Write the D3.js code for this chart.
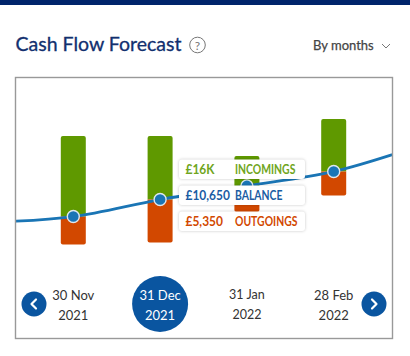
<!DOCTYPE html>
<html>
<head>
<meta charset="utf-8">
<script src="https://cdn.jsdelivr.net/npm/d3@7"></script>
<style>
  body { margin: 0; background: #fff; }
  svg { display: block; font-family: Lato, "Open Sans", sans-serif; }
</style>
</head>
<body>
<svg id="chart" width="410" height="356"></svg>
<script>
// months on the x axis, first and last only carry the balance line off the edges
const lineMonths = ['Oct', 'Nov', 'Dec', 'Jan', 'Feb', 'Mar'];
const balance = [9040, 9460, 10650, 11600, 12610, 14440];

const barMonths = ['Nov', 'Dec', 'Jan', 'Feb'];
const barBalance = [9460, 10650, 11600, 12610];
const incomings = [20300, 16000, 7560, 13200];
const outgoings = [3480, 5350, 3230, 2980];

const dateDays = ['30 Nov', '31 Dec', '31 Jan', '28 Feb'];
const dateYears = ['2021', '2021', '2022', '2022'];
const selectedIndex = 1;

const tooltipValues = ['£16K', '£10,650', '£5,350'];
const tooltipLabels = ['INCOMINGS', 'BALANCE', 'OUTGOINGS'];

const navy = '#00246b';
const blue = '#0a55a0';
const lineBlue = '#1a75b5';
const green = '#5f9900';
const red = '#d24800';
const tooltipColors = ['#6fa51c', '#1a5ca3', '#d24800'];

const svg = d3.select('#chart');

// top strip
svg.append('rect').attr('width', 410).attr('height', 5).attr('fill', navy);

// header
svg.append('text')
    .attr('x', 15.5).attr('y', 51)
    .attr('fill', '#12306f')
    .attr('stroke', '#12306f')
    .attr('stroke-width', 0.3)
    .style('font-size', '19.5px')
    .text('Cash Flow Forecast');
svg.append('circle')
    .attr('cx', 197.5).attr('cy', 45).attr('r', 7.8)
    .attr('fill', 'none').attr('stroke', '#777').attr('stroke-width', 1);
svg.append('text')
    .attr('x', 197.5).attr('y', 49.5)
    .attr('text-anchor', 'middle')
    .attr('fill', '#777')
    .style('font-size', '12px')
    .text('?');
svg.append('text')
    .attr('x', 313).attr('y', 50)
    .attr('fill', '#444')
    .attr('stroke', '#444')
    .attr('stroke-width', 0.25)
    .style('font-size', '13px')
    .text('By months');
svg.append('path')
    .attr('d', 'M382,44 L386,48 L390,44')
    .attr('fill', 'none').attr('stroke', '#777').attr('stroke-width', 1);

// scales
const xscale = d3.scalePoint().domain(lineMonths).range([-13.5, 420.5]);
const yscale = d3.scaleLinear().domain([8000, 14000]).range([237.4, 151.6]);
const inscale = d3.scaleLinear().domain([0, 16000]).range([0, 63.5]);
const outscale = d3.scaleLinear().domain([0, 5350]).range([0, 43]);

// plot frame
svg.append('clipPath').attr('id', 'frame')
    .append('rect').attr('x', 16).attr('y', 78).attr('width', 376).attr('height', 261);

// bars are rounded on the outer end only
const barWidth = 25;
function barPath(cx, from, to, r) {
    const dir = to < from ? -1 : 1;
    const p = d3.path();
    p.moveTo(cx - barWidth / 2, from);
    p.lineTo(cx - barWidth / 2, to - dir * r);
    p.quadraticCurveTo(cx - barWidth / 2, to, cx - barWidth / 2 + r, to);
    p.lineTo(cx + barWidth / 2 - r, to);
    p.quadraticCurveTo(cx + barWidth / 2, to, cx + barWidth / 2, to - dir * r);
    p.lineTo(cx + barWidth / 2, from);
    p.closePath();
    return p.toString();
}

const plot = svg.append('g').attr('clip-path', 'url(#frame)');

plot.selectAll('.in').data(barMonths).join('path')
    .attr('class', 'in')
    .attr('fill', green)
    .attr('d', (d, i) => barPath(xscale(d), yscale(barBalance[i]), yscale(barBalance[i]) - inscale(incomings[i]), 2));
plot.selectAll('.out').data(barMonths).join('path')
    .attr('class', 'out')
    .attr('fill', red)
    .attr('d', (d, i) => barPath(xscale(d), yscale(barBalance[i]), yscale(barBalance[i]) + outscale(outgoings[i]), 2));

const line = d3.line()
    .x((d, i) => xscale(lineMonths[i]))
    .y(d => yscale(d))
    .curve(d3.curveMonotoneX);

plot.append('path')
    .datum(balance)
    .attr('d', line)
    .attr('fill', 'none')
    .attr('stroke', lineBlue)
    .attr('stroke-width', 2.8);

plot.selectAll('.dot').data(barMonths).join('circle')
    .attr('class', 'dot')
    .attr('cx', d => xscale(d))
    .attr('cy', (d, i) => yscale(barBalance[i]))
    .attr('r', 6)
    .attr('fill', lineBlue)
    .attr('stroke', '#dfe8ef')
    .attr('stroke-width', 1.4);

svg.append('rect')
    .attr('x', 15.5).attr('y', 77.5).attr('width', 377).attr('height', 261)
    .attr('fill', 'none').attr('stroke', '#999').attr('stroke-width', 1.4);

// tooltip of the selected month, text squeezed a bit since the real font is narrower
const rowY = d3.scalePoint().domain(tooltipLabels).range([159.5, 211.5]);
const rows = svg.selectAll('.row').data(tooltipLabels).join('g')
    .attr('class', 'row')
    .attr('transform', d => `translate(179, ${rowY(d)})`);
rows.append('rect')
    .attr('width', 126).attr('height', 19.5).attr('rx', 3)
    .attr('fill', '#fff')
    .style('filter', 'drop-shadow(0 0 1.5px rgba(0,0,0,0.22))');
rows.append('text')
    .attr('transform', 'translate(6.5, 14.5) scale(0.92, 1)')
    .attr('fill', (d, i) => tooltipColors[i])
    .style('font-size', '13px')
    .style('font-weight', 700)
    .text((d, i) => tooltipValues[i]);
rows.append('text')
    .attr('transform', 'translate(56, 14.5) scale(0.8, 1)')
    .attr('fill', (d, i) => tooltipColors[i])
    .style('font-size', '13px')
    .style('font-weight', 700)
    .text(d => d);

// date selector
svg.append('circle')
    .attr('cx', xscale(barMonths[selectedIndex])).attr('cy', 304).attr('r', 28)
    .attr('fill', blue);

const dates = svg.selectAll('.date').data(barMonths).join('g')
    .attr('class', 'date')
    .attr('text-anchor', 'middle')
    .attr('fill', (d, i) => i === selectedIndex ? '#fff' : '#333')
    .style('font-size', (d, i) => i === 2 ? '12.5px' : '13px');
dates.append('text')
    .attr('x', d => xscale(d)).attr('y', (d, i) => i === 2 ? 299 : 300)
    .text((d, i) => dateDays[i]);
dates.append('text')
    .attr('x', d => xscale(d)).attr('y', (d, i) => i === 2 ? 319 : 320)
    .text((d, i) => dateYears[i]);

// arrows
const arrows = [[34, -1], [374, 1]];
svg.selectAll('.nav').data(arrows).join('g')
    .attr('class', 'nav')
    .attr('transform', d => `translate(${d[0]}, 304)`)
    .call(g => g.append('circle').attr('r', 12.5).attr('fill', blue))
    .call(g => g.append('path')
        .attr('d', d => `M${-d[1] * 2},-4.5 L${d[1] * 2.5},0 L${-d[1] * 2},4.5`)
        .attr('fill', 'none')
        .attr('stroke', '#fff')
        .attr('stroke-width', 2.2)
        .attr('stroke-linecap', 'round')
        .attr('stroke-linejoin', 'round'));
</script>
</body>
</html>
